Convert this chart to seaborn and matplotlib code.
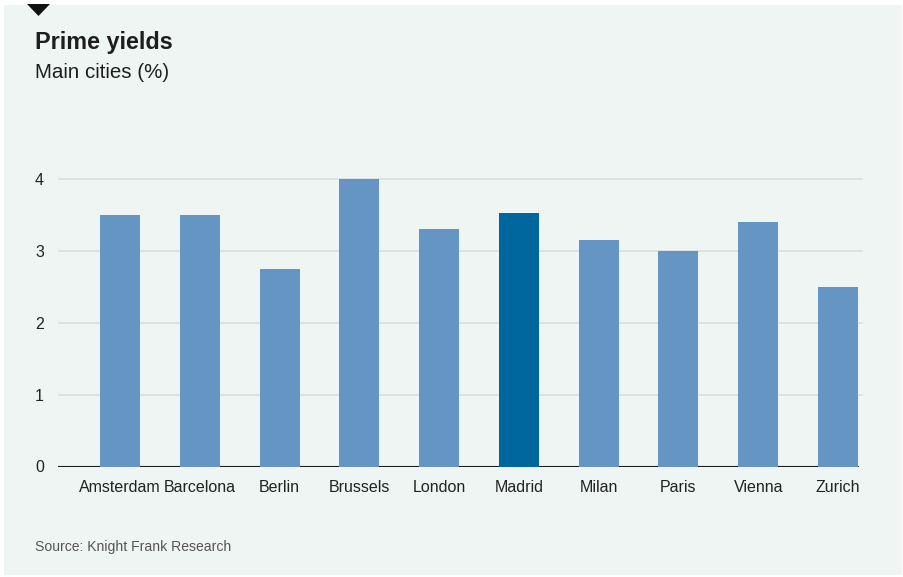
import matplotlib
matplotlib.use("Agg")
import matplotlib.pyplot as plt
import seaborn as sns
import pandas as pd
from matplotlib.patches import Rectangle, Polygon

cities = ["Amsterdam", "Barcelona", "Berlin", "Brussels", "London",
          "Madrid", "Milan", "Paris", "Vienna", "Zurich"]
yields = [3.5, 3.5, 2.75, 4.0, 3.3, 3.53, 3.15, 3.0, 3.4, 2.5]
highlight = "Madrid"
y_ticks = [0, 1, 2, 3, 4]

BASE = "#6596c3"
HIGH = "#00679e"
BG = "#eff5f3"

sns.set_theme(style="white")
plt.rcParams['font.family'] = ['Liberation Sans', 'DejaVu Sans']

W, H = 904, 577
fig = plt.figure(figsize=(W / 100, H / 100), dpi=100, facecolor="white")

# background panel and marker triangle
fig.patches.append(Rectangle((4 / W, 2 / H), (W - 6) / W, (H - 7) / H,
                             transform=fig.transFigure, facecolor=BG,
                             edgecolor="none", zorder=-5))
fig.patches.append(Polygon([(27 / W, 1 - 4 / H), (50 / W, 1 - 4 / H), (38.5 / W, 1 - 16 / H)],
                           closed=True, transform=fig.transFigure,
                           facecolor="#111111", edgecolor="none", zorder=-4))

ax_left, ax_right = 58, 863
y0_px, y4_px = 466.5, 179
ymax = 4.2
unit = (y0_px - y4_px) / 4
top_px = y0_px - ymax * unit
ax = fig.add_axes([ax_left / W, (H - y0_px) / H, (ax_right - ax_left) / W,
                   (y0_px - top_px) / H])
ax.set_facecolor("none")

df = pd.DataFrame({"city": cities, "yield": yields})
palette = {c: (HIGH if c == highlight else BASE) for c in cities}
sns.barplot(data=df, x="city", y="yield", hue="city", palette=palette,
            width=0.501, legend=False, ax=ax, saturation=1, zorder=3,
            linewidth=0, edgecolor="none")

step = 79.78
ax.set_xlim((ax_left - 120) / step, (ax_right - 120) / step)
ax.set_ylim(0, ymax)
ax.set_yticks(y_ticks)
for t in y_ticks[1:]:
    ax.axhline(t, color="#dadddc", lw=1.2, zorder=1)
ax.axhline(0, xmax=(858 - ax_left) / (ax_right - ax_left),
           color="#1a1a1a", lw=1.5, zorder=2)

for s in ax.spines.values():
    s.set_visible(False)
ax.set_xlabel("")
ax.set_ylabel("")
ax.tick_params(axis="x", length=0, pad=10, labelsize=11.5, labelcolor="#222222")
ax.tick_params(axis="y", length=0, pad=10, labelsize=11.5, labelcolor="#222222")

fig.text(35 / W, 1 - 42 / H, "Prime yields", fontsize=16.8, fontweight="bold",
         color="#1e1e1e", va="center", ha="left")
fig.text(35 / W, 1 - 72 / H, "Main cities (%)", fontsize=14.8,
         color="#1e1e1e", va="center", ha="left")
fig.text(35 / W, 1 - 547 / H, "Source: Knight Frank Research", fontsize=10.1,
         color="#555555", va="center", ha="left")

fig.savefig("out.png", dpi=100, facecolor="white")
